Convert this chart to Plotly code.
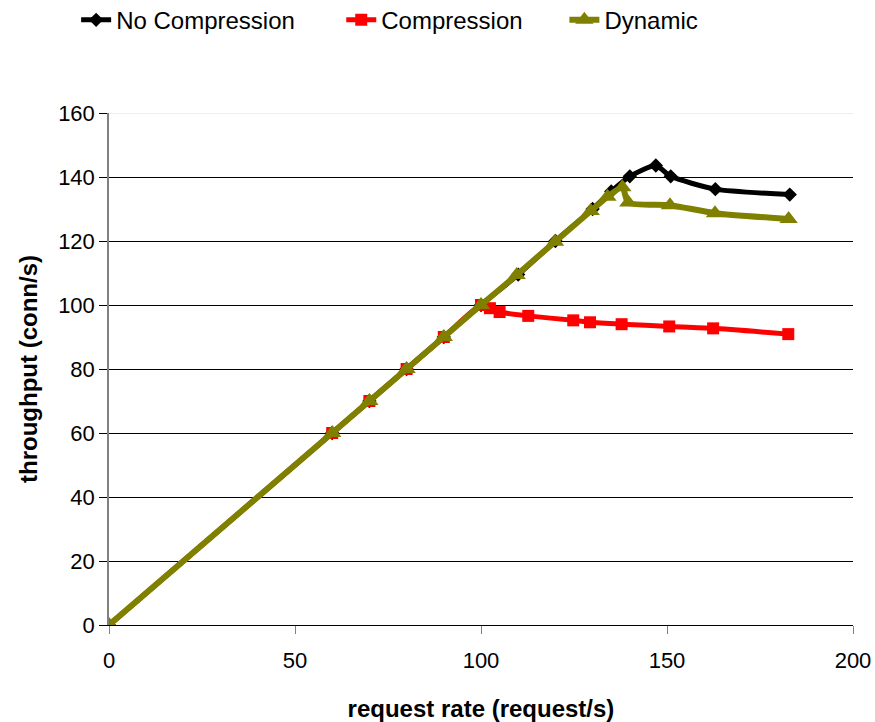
import plotly.graph_objects as go

# Throughput vs. request rate for the three server configurations
rate_nocomp = [0, 60, 70, 80, 90, 100, 110, 120, 130, 135, 140, 147, 151, 163, 183]
tput_nocomp = [0, 60, 70, 80, 90, 100, 109.5, 120, 130, 135.5, 140.2, 143.6, 140.2, 136.2, 134.5]

rate_comp = [0, 60, 70, 80, 90, 100, 102.4, 105, 112.7, 124.8, 129.3, 137.8, 150.6, 162.4, 182.6]
tput_comp = [0, 60, 70, 80, 90, 100, 99.0, 97.8, 96.6, 95.2, 94.6, 94.0, 93.3, 92.7, 90.9]

rate_dyn = [0, 60, 70, 80, 90, 100, 109.6, 119.9, 129.5, 134.0, 138.0, 139.6, 150.8, 162.9, 182.7]
tput_dyn = [0, 60, 70, 80, 90, 100, 109.4, 119.8, 129.4, 133.8, 136.8, 132.0, 131.2, 128.7, 126.9]

series_names = ["No Compression", "Compression", "Dynamic"]
x_ticks = [0, 50, 100, 150, 200]
y_ticks = [0, 20, 40, 60, 80, 100, 120, 140, 160]

FONT = "Liberation Sans, Arial, sans-serif"
OLIVE = "#808000"

fig = go.Figure()

fig.add_trace(go.Scatter(
    x=rate_nocomp, y=tput_nocomp, name=series_names[0], mode="lines+markers",
    line=dict(color="black", width=5, shape="spline", smoothing=0.6),
    marker=dict(symbol="diamond", size=11, color="black"),
    legend="legend", showlegend=True,
))
fig.add_trace(go.Scatter(
    x=rate_comp, y=tput_comp, name=series_names[1], mode="lines+markers",
    line=dict(color="#ff0000", width=5, shape="spline", smoothing=0.6),
    marker=dict(symbol="square", size=12, color="#ff0000"),
    legend="legend2", showlegend=True,
))
fig.add_trace(go.Scatter(
    x=rate_dyn, y=tput_dyn, name=series_names[2], mode="lines+markers",
    line=dict(color=OLIVE, width=6, shape="spline", smoothing=0.6),
    marker=dict(symbol="triangle-up", size=16, color=OLIVE),
    legend="legend3", showlegend=True,
))

# One single-entry legend per series, laid out in a row above the plot
legend_common = dict(
    orientation="h", xref="container", yref="container",
    yanchor="middle", y=0.972, xanchor="left",
    font=dict(family=FONT, size=24, color="black"),
    bgcolor="rgba(0,0,0,0)", borderwidth=0,
)

fig.update_layout(
    width=875, height=722,
    margin=dict(l=109, r=22, t=113, b=97, autoexpand=False),
    paper_bgcolor="white", plot_bgcolor="white",
    font=dict(family=FONT, size=22, color="black"),
    showlegend=True,
    legend=dict(x=0.087, **legend_common),
    legend2=dict(x=0.390, **legend_common),
    legend3=dict(x=0.645, **legend_common),
    xaxis=dict(
        range=[0, 200], tickvals=x_ticks, showgrid=False, zeroline=False,
        showline=True, linecolor="black", linewidth=1, automargin=False,
        ticks="outside", ticklen=8, tickcolor="#808080", tickwidth=1,
        tickfont=dict(family=FONT, size=22, color="black"),
        ticklabelstandoff=8,
        title=dict(text="request rate (request/s)", standoff=29,
                   font=dict(family=FONT, size=24, color="black", weight="bold")),
    ),
    yaxis=dict(
        range=[0, 160], tickvals=y_ticks, showgrid=True, gridcolor="black", gridwidth=1,
        zeroline=False, showline=True, linecolor="#808080", linewidth=1.5, automargin=False,
        ticks="outside", ticklen=8, tickcolor="black", tickwidth=1,
        tickfont=dict(family=FONT, size=22, color="black"),
        title=dict(text="throughput (conn/s)", standoff=14,
                   font=dict(family=FONT, size=24, color="black", weight="bold")),
    ),
    shapes=[dict(
        type="line", xref="paper", x0=0, x1=1, yref="y", y0=y_ticks[-1], y1=y_ticks[-1],
        line=dict(color="#e8e8e8", width=1.5), layer="below",
    )],
)

fig.write_html("out.html")
